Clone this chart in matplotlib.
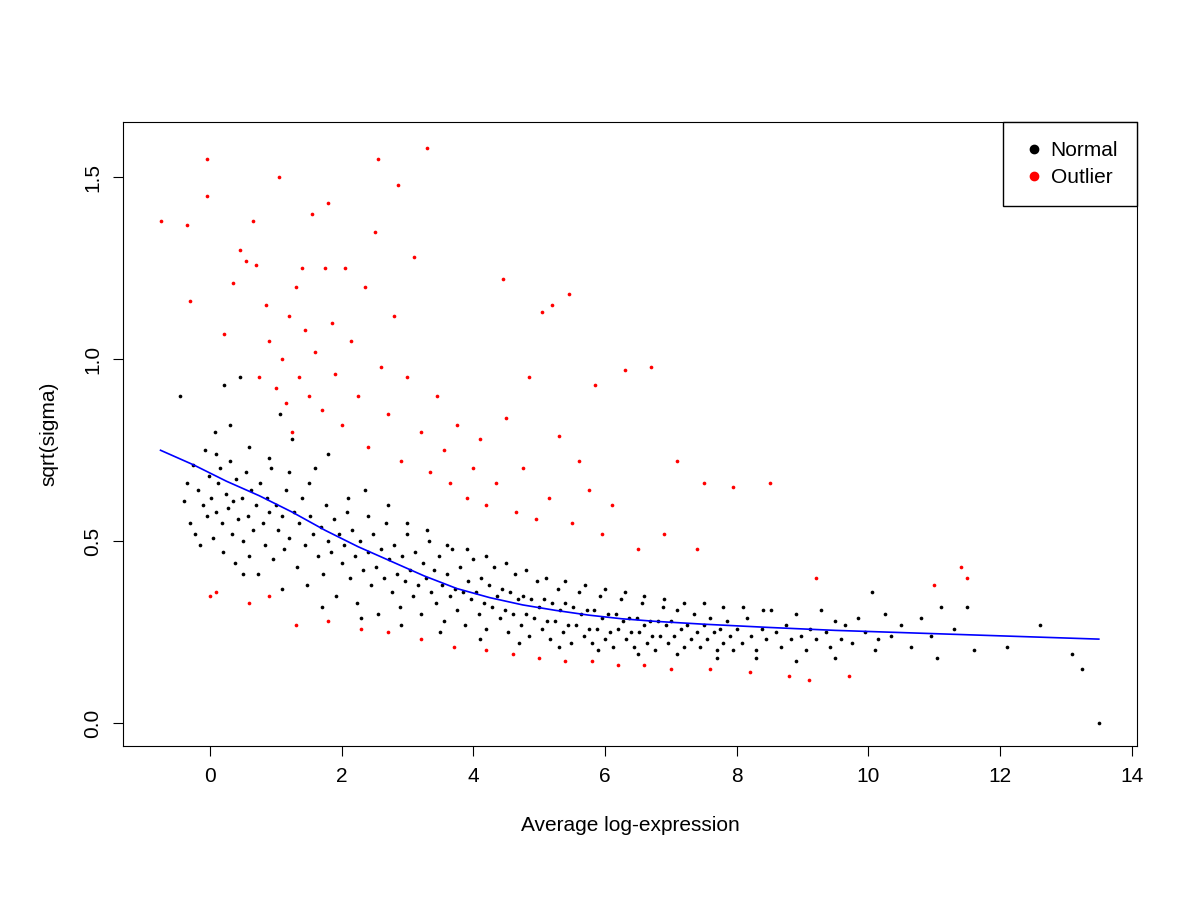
import matplotlib.pyplot as plt

# points, "x y" pairs
normal_txt = """
-0.45 0.90 -0.40 0.61 -0.35 0.66 -0.30 0.55 -0.25 0.71 -0.22 0.52 -0.18 0.64 -0.15 0.49
-0.10 0.60 -0.08 0.75 -0.05 0.57 -0.02 0.68 0.02 0.62 0.05 0.51 0.07 0.80 0.10 0.58
0.12 0.66 0.15 0.70 0.18 0.55 0.20 0.47 0.22 0.93 0.25 0.63 0.28 0.59 0.30 0.72
0.33 0.52 0.35 0.61 0.38 0.44 0.40 0.67 0.42 0.56 0.45 0.95 0.48 0.62 0.50 0.50
0.55 0.69 0.58 0.57 0.60 0.46 0.63 0.64 0.66 0.53 0.70 0.60 0.73 0.41 0.76 0.66
0.80 0.55 0.83 0.49 0.86 0.62 0.90 0.58 0.93 0.70 0.96 0.45 1.00 0.60 1.03 0.53
1.06 0.85 1.10 0.57 1.13 0.48 1.16 0.64 1.20 0.51 1.24 0.78 1.28 0.58 1.32 0.43
1.35 0.55 1.40 0.62 1.44 0.49 1.48 0.38 1.52 0.57 1.56 0.52 1.60 0.70 1.64 0.46
1.68 0.54 1.72 0.41 1.76 0.60 1.80 0.50 1.84 0.47 1.88 0.56 1.92 0.35 1.96 0.52
2.00 0.44 2.04 0.49 2.08 0.58 2.12 0.40 2.16 0.53 2.20 0.46 2.24 0.33 2.28 0.50
2.32 0.42 2.36 0.64 2.40 0.47 2.44 0.38 2.48 0.52 2.52 0.43 2.56 0.30 2.60 0.48
2.64 0.40 2.68 0.55 2.72 0.45 2.76 0.36 2.80 0.49 2.84 0.41 2.88 0.32 2.92 0.46
2.96 0.39 3.00 0.52 3.04 0.42 3.08 0.35 3.12 0.47 3.16 0.38 3.20 0.30 3.24 0.44
3.28 0.40 3.32 0.50 3.36 0.36 3.40 0.42 3.44 0.33 3.48 0.46 3.52 0.38 3.56 0.28
3.60 0.41 3.64 0.35 3.68 0.48 3.72 0.37 3.76 0.31 3.80 0.43 3.84 0.36 3.88 0.27
3.92 0.39 3.96 0.34 4.00 0.45 4.04 0.36 4.08 0.30 4.12 0.40 4.16 0.33 4.20 0.26
4.24 0.38 4.28 0.32 4.32 0.43 4.36 0.35 4.40 0.29 4.44 0.37 4.48 0.31 4.52 0.25
4.56 0.36 4.60 0.30 4.64 0.41 4.68 0.34 4.72 0.27 4.76 0.35 4.80 0.30 4.84 0.24
4.88 0.34 4.92 0.29 4.96 0.39 5.00 0.32 5.04 0.26 5.08 0.34 5.12 0.28 5.16 0.23
5.20 0.33 5.24 0.28 5.28 0.37 5.32 0.31 5.36 0.25 5.40 0.33 5.44 0.27 5.48 0.22
5.52 0.32 5.56 0.27 5.60 0.36 5.64 0.30 5.68 0.24 5.72 0.31 5.76 0.26 5.80 0.22
5.84 0.31 5.88 0.26 5.92 0.35 5.96 0.29 6.00 0.23 6.04 0.30 6.08 0.25 6.12 0.21
6.16 0.30 6.20 0.26 6.24 0.34 6.28 0.28 6.32 0.23 6.36 0.29 6.40 0.25 6.44 0.21
6.48 0.29 6.52 0.25 6.56 0.33 6.60 0.27 6.64 0.22 6.68 0.28 6.72 0.24 6.76 0.20
6.80 0.28 6.84 0.24 6.88 0.32 6.92 0.27 6.96 0.22 7.00 0.28 7.05 0.24 7.10 0.31
7.15 0.26 7.20 0.21 7.25 0.27 7.30 0.23 7.35 0.30 7.40 0.25 7.45 0.21 7.50 0.27
7.55 0.23 7.60 0.29 7.65 0.25 7.70 0.20 7.75 0.26 7.80 0.22 7.85 0.28 7.90 0.24
7.95 0.20 8.00 0.26 8.08 0.22 8.15 0.29 8.22 0.24 8.30 0.20 8.38 0.26 8.45 0.23
8.52 0.31 8.60 0.25 8.68 0.21 8.75 0.27 8.82 0.23 8.90 0.30 8.98 0.24 9.05 0.20
9.12 0.26 9.20 0.23 9.28 0.31 9.35 0.25 9.42 0.21 9.50 0.28 9.58 0.23 9.65 0.27
9.75 0.22 9.85 0.29 9.95 0.25 10.05 0.36 10.15 0.23 10.25 0.30 10.35 0.24 10.50 0.27
10.65 0.21 10.80 0.29 10.95 0.24 11.05 0.18 11.10 0.32 11.30 0.26 11.50 0.32 11.60 0.20
12.10 0.21 12.60 0.27 13.10 0.19 13.25 0.15 13.50 0.00
0.10 0.74 0.30 0.82 0.60 0.76 0.90 0.73 1.20 0.69 1.50 0.66 1.80 0.74 2.10 0.62
2.40 0.57 2.70 0.60 3.00 0.55 3.30 0.53 3.60 0.49 3.90 0.48 4.20 0.46 4.50 0.44
4.80 0.42 5.10 0.40 5.40 0.39 5.70 0.38 6.00 0.37 6.30 0.36 6.60 0.35 6.90 0.34
7.20 0.33 7.50 0.33 7.80 0.32 8.10 0.32 8.40 0.31 0.50 0.41 1.10 0.37 1.70 0.32
2.30 0.29 2.90 0.27 3.50 0.25 4.10 0.23 4.70 0.22 5.30 0.21 5.90 0.20 6.50 0.19
7.10 0.19 7.70 0.18 8.30 0.18 8.90 0.17 9.50 0.18 10.10 0.20
"""
outlier_txt = """
-0.75 1.38 -0.35 1.37 -0.30 1.16 -0.05 1.55 -0.05 1.45 0.00 0.35 0.10 0.36 0.22 1.07
0.35 1.21 0.45 1.30 0.55 1.27 0.65 1.38 0.70 1.26 0.75 0.95 0.85 1.15 0.90 1.05
1.00 0.92 1.05 1.50 1.10 1.00 1.15 0.88 1.20 1.12 1.25 0.80 1.30 1.20 1.35 0.95
1.40 1.25 1.45 1.08 1.50 0.90 1.55 1.40 1.60 1.02 1.70 0.86 1.75 1.25 1.80 1.43
1.85 1.10 1.90 0.96 2.00 0.82 2.05 1.25 2.15 1.05 2.25 0.90 2.35 1.20 2.40 0.76
2.50 1.35 2.55 1.55 2.60 0.98 2.70 0.85 2.80 1.12 2.85 1.48 2.90 0.72 3.00 0.95
3.10 1.28 3.20 0.80 3.30 1.58 3.35 0.69 3.45 0.90 3.55 0.75 3.65 0.66 3.75 0.82
3.90 0.62 4.00 0.70 4.10 0.78 4.20 0.60 4.35 0.66 4.45 1.22 4.50 0.84 4.65 0.58
4.75 0.70 4.85 0.95 4.95 0.56 5.05 1.13 5.15 0.62 5.20 1.15 5.30 0.79 5.45 1.18
5.50 0.55 5.60 0.72 5.75 0.64 5.85 0.93 5.95 0.52 6.10 0.60 6.30 0.97 6.50 0.48
6.70 0.98 6.90 0.52 7.10 0.72 7.40 0.48 7.50 0.66 7.95 0.65 8.50 0.66 9.20 0.40
11.00 0.38 11.40 0.43 11.50 0.40 0.60 0.33 0.90 0.35 1.30 0.27 1.80 0.28 2.30 0.26
2.70 0.25 3.20 0.23 3.70 0.21 4.20 0.20 4.60 0.19 5.00 0.18 5.40 0.17 5.80 0.17
6.20 0.16 6.60 0.16 7.00 0.15 7.60 0.15 8.20 0.14 8.80 0.13 9.10 0.12 9.70 0.13
"""

normal = [float(v) for v in normal_txt.split()]
outlier = [float(v) for v in outlier_txt.split()]

trend_x = [-0.75, -0.25, 0.25, 0.75, 1.25, 1.75, 2.25, 2.75, 3.25, 3.75, 4.25, 4.75,
           5.25, 5.75, 6.25, 6.75, 7.5, 8.5, 9.5, 10.5, 11.5, 12.5, 13.5]
trend_y = [0.75, 0.71, 0.665, 0.625, 0.58, 0.53, 0.485, 0.445, 0.405, 0.37, 0.345, 0.325,
           0.31, 0.297, 0.287, 0.28, 0.272, 0.263, 0.255, 0.249, 0.243, 0.237, 0.231]

plt.rcParams['font.family'] = 'Liberation Sans'
plt.rcParams['font.size'] = 15

plt.figure(figsize=(12, 9), dpi=100)
plt.axes([0.1025, 0.171, 0.845, 0.693])
plt.scatter(normal[0::2], normal[1::2], s=7, c='black', linewidths=0)
plt.scatter(outlier[0::2], outlier[1::2], s=7, c='red', linewidths=0)
plt.plot(trend_x, trend_y, color='blue', lw=1.2)
plt.xlim(-1.32, 14.08)
plt.ylim(-0.063, 1.651)
plt.xticks(range(0, 15, 2))
plt.yticks([0.0, 0.5, 1.0, 1.5], ['0.0', '0.5', '1.0', '1.5'], rotation=90, va='center')
plt.tick_params(length=7, pad=8)
plt.xlabel('Average log-expression', labelpad=22)
plt.ylabel('sqrt(sigma)', labelpad=18)

h1 = plt.Line2D([], [], marker='o', ls='', color='black', markersize=6)
h2 = plt.Line2D([], [], marker='o', ls='', color='red', markersize=6)
leg = plt.legend([h1, h2], ['Normal', 'Outlier'], loc='upper right', fancybox=False,
                 edgecolor='black', handletextpad=0.2, handlelength=1.2, borderaxespad=0,
                 framealpha=1, borderpad=0.9, labelspacing=0.4)
leg.get_frame().set_linewidth(1)

plt.savefig('out.png')
